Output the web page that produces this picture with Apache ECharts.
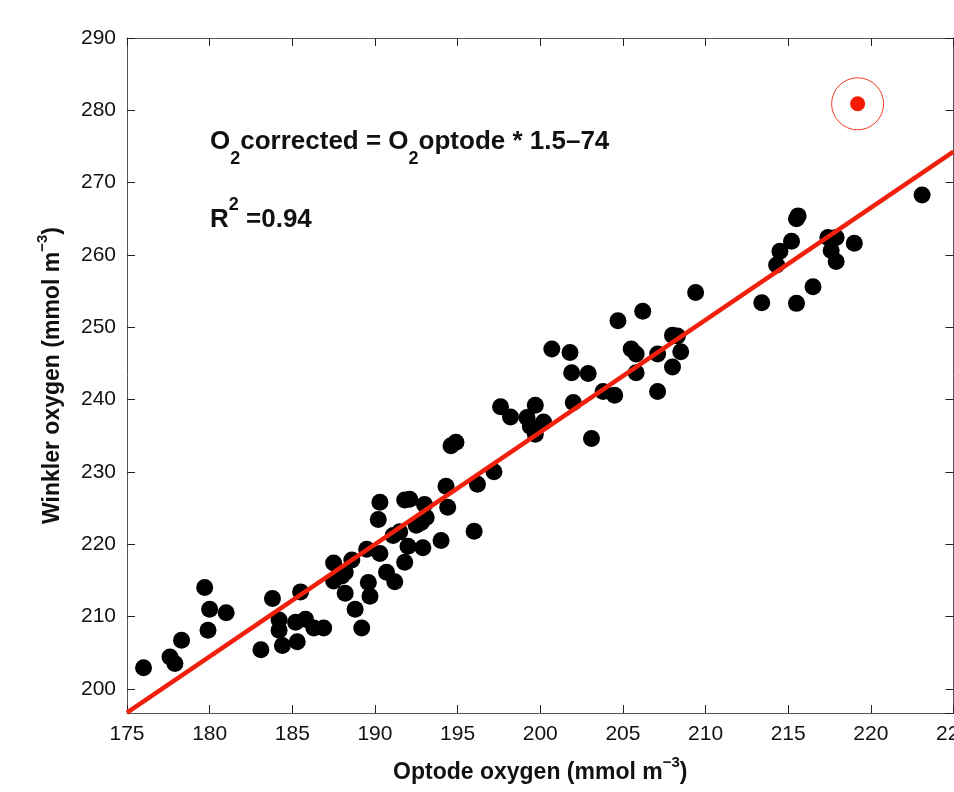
<!DOCTYPE html>
<html>
<head>
<meta charset="utf-8">
<title>Optode vs Winkler oxygen</title>
<script src="https://cdn.jsdelivr.net/npm/echarts/dist/echarts.min.js"></script>
<style>
  html, body { margin: 0; padding: 0; background: #fff; overflow: hidden; }
  #chart { position: absolute; left: 0; top: 0; width: 954px; height: 792px; }
</style>
</head>
<body>
<div id="chart"></div>
<script>
// optode reading (x) and winkler titration (y), one entry per bottle
const optodeX = [
  176.0, 177.6, 177.9, 178.3, 179.7, 180.0, 179.9, 181.0, 183.1, 183.8,
  184.2, 184.2, 184.4, 185.3, 185.5, 185.2, 185.8, 186.3, 186.9, 187.5,
  188.6, 187.5, 188.0, 188.2, 188.2, 188.8, 189.2, 189.6, 189.7, 189.5,
  190.3, 190.2, 190.3, 190.7, 191.2, 191.1, 191.5, 191.8, 192.1, 192.0,
  191.8, 192.5, 193.0, 193.1, 192.8, 192.9, 194.3, 194.4, 194.0, 194.6,
  194.9, 196.2, 196.0, 197.2, 197.6, 198.2, 199.2, 199.7, 199.4, 200.2,
  199.7, 200.7, 201.8, 201.9, 202.9, 202.0, 203.1, 203.8, 204.5, 204.7,
  205.5, 205.8, 205.8, 206.2, 207.1, 207.1, 208.0, 208.3, 208.5, 208.0,
  209.4, 213.4, 214.3, 214.5, 215.2, 215.6, 215.5, 215.5, 216.5, 217.4,
  217.9, 217.6, 217.9, 219.0, 223.1
]
const winklerY = [
  202.9, 204.4, 203.5, 206.7, 214.0, 211.0, 208.1, 210.5, 205.4, 212.5,
  209.5, 208.1, 206.0, 206.5, 213.4, 209.2, 209.6, 208.4, 208.4, 217.4,
  217.8, 214.9, 215.6, 216.1, 213.2, 211.0, 208.4, 214.7, 212.8, 219.3,
  225.8, 223.4, 218.7, 216.1, 214.8, 221.2, 221.7, 226.1, 226.2, 219.7,
  217.5, 222.6, 225.5, 223.7, 223.0, 219.5, 228.0, 225.1, 220.5, 233.6,
  234.1, 228.3, 221.8, 230.0, 239.0, 237.6, 237.5, 239.2, 236.3, 236.9,
  235.2, 247.0, 246.5, 243.7, 243.6, 239.6, 234.6, 241.1, 240.6, 250.9,
  247.0, 246.3, 243.7, 252.2, 246.3, 241.1, 248.9, 248.8, 246.6, 244.5,
  254.8, 253.4, 258.6, 260.5, 261.9, 265.4, 265.0, 253.3, 255.6, 262.4,
  262.4, 260.6, 259.1, 261.6, 268.3
]

// regression line as drawn, ends at the plot edges
const fitX = [175, 225]
const fitY = [196.7, 274.3]

// excluded outlier (circled in red)
const outlierX = [219.2]
const outlierY = [280.9]

const FONT = 'Liberation Sans, Arial, Helvetica, sans-serif'
const axisColor = '#555'

const chart = echarts.init(document.getElementById('chart'))

const zip = (xs, ys) => xs.map((v, i) => [v, ys[i]])

// rich text for the axis titles: main text + raised "-3"
const titleRich = {
  b: { fontFamily: FONT, fontSize: 23, fontWeight: 'bold', color: '#111', lineHeight: 29, verticalAlign: 'bottom' },
  sup: { fontFamily: FONT, fontSize: 15, fontWeight: 'bold', color: '#111', lineHeight: 15, verticalAlign: 'top' }
}

// plain box axis, used for the mirrored top / right sides
function boxAxis(pos, min, max) {
  return {
    type: 'value',
    position: pos,
    min: min,
    max: max,
    axisLine: { show: true, onZero: false, lineStyle: { color: axisColor, width: 1 } },
    axisTick: { show: true, inside: true, length: 8, lineStyle: { color: '#222' } },
    axisLabel: { show: false },
    splitLine: { show: false }
  }
}

const xTop = boxAxis('top', 175, 225)
xTop.interval = 5
const yRight = boxAxis('right', 196.65, 290)
yRight.splitNumber = 9

const option = {
  backgroundColor: '#fff',
  animation: false,
  grid: {
    left: 127,
    top: 38,
    right: 0.5,
    bottom: 79,
    containLabel: false,
    outerBoundsMode: 'none' // let the last x label run off the edge like the source
  },
  xAxis: [
    {
      type: 'value',
      min: 175,
      max: 225,
      interval: 5,
      name: '{b|Optode oxygen (mmol m}{sup|−3}{b|)}',
      nameLocation: 'middle',
      nameGap: 42,
      nameTextStyle: { rich: titleRich },
      axisLine: { show: true, onZero: false, lineStyle: { color: axisColor, width: 1 } },
      axisTick: { show: true, inside: true, length: 8, lineStyle: { color: '#222' } },
      axisLabel: { color: '#111', fontFamily: FONT, fontSize: 21, margin: 11 },
      splitLine: { show: false }
    },
    xTop
  ],
  yAxis: [
    {
      type: 'value',
      min: 196.65,
      max: 290,
      splitNumber: 9,
      name: '{b|Winkler oxygen (mmol m}{sup|−3}{b|)}',
      nameLocation: 'middle',
      nameGap: 63,
      nameTextStyle: { rich: titleRich },
      axisLine: { show: true, onZero: false, lineStyle: { color: axisColor, width: 1 } },
      axisTick: { show: true, inside: true, length: 8, lineStyle: { color: '#222' } },
      axisLabel: { color: '#111', fontFamily: FONT, fontSize: 21, margin: 11, showMinLabel: false },
      splitLine: { show: false }
    },
    yRight
  ],
  graphic: [
    {
      type: 'text',
      left: 210,
      top: 129,
      style: {
        // O2 subscripts sit low, under the baseline
        text: '{b|O}{s|2}{b|corrected = O}{s|2}{b|optode * 1.5–74}',
        rich: {
          b: { fontFamily: FONT, fontSize: 26, fontWeight: 'bold', fill: '#111', lineHeight: 26, verticalAlign: 'top' },
          s: { fontFamily: FONT, fontSize: 18, fontWeight: 'bold', fill: '#111', lineHeight: 39, verticalAlign: 'bottom' }
        }
      }
    },
    {
      type: 'text',
      left: 210,
      top: 196,
      style: {
        text: '{b|R}{p|2}{b| =0.94}',
        rich: {
          b: { fontFamily: FONT, fontSize: 26, fontWeight: 'bold', fill: '#111', lineHeight: 37, verticalAlign: 'bottom' },
          p: { fontFamily: FONT, fontSize: 18, fontWeight: 'bold', fill: '#111', lineHeight: 18, verticalAlign: 'top' }
        }
      }
    }
  ],
  series: [
    {
      name: 'samples',
      type: 'scatter',
      symbol: 'circle',
      symbolSize: 17,
      itemStyle: { color: '#000', opacity: 1 },
      data: zip(optodeX, winklerY),
      z: 2
    },
    {
      name: 'fit',
      type: 'line',
      data: zip(fitX, fitY),
      showSymbol: false,
      lineStyle: { color: '#f0200c', width: 4.5 },
      z: 3
    },
    {
      name: 'outlier',
      type: 'scatter',
      symbolSize: 15,
      itemStyle: { color: '#f51a04', opacity: 1 },
      data: zip(outlierX, outlierY),
      z: 4
    },
    {
      name: 'outlier ring',
      type: 'scatter',
      symbolSize: 52,
      itemStyle: { color: 'rgba(0,0,0,0)', borderColor: '#f03a28', borderWidth: 1, opacity: 1 },
      data: zip(outlierX, outlierY),
      z: 4
    }
  ]
}

chart.setOption(option, true)
</script>
</body>
</html>
